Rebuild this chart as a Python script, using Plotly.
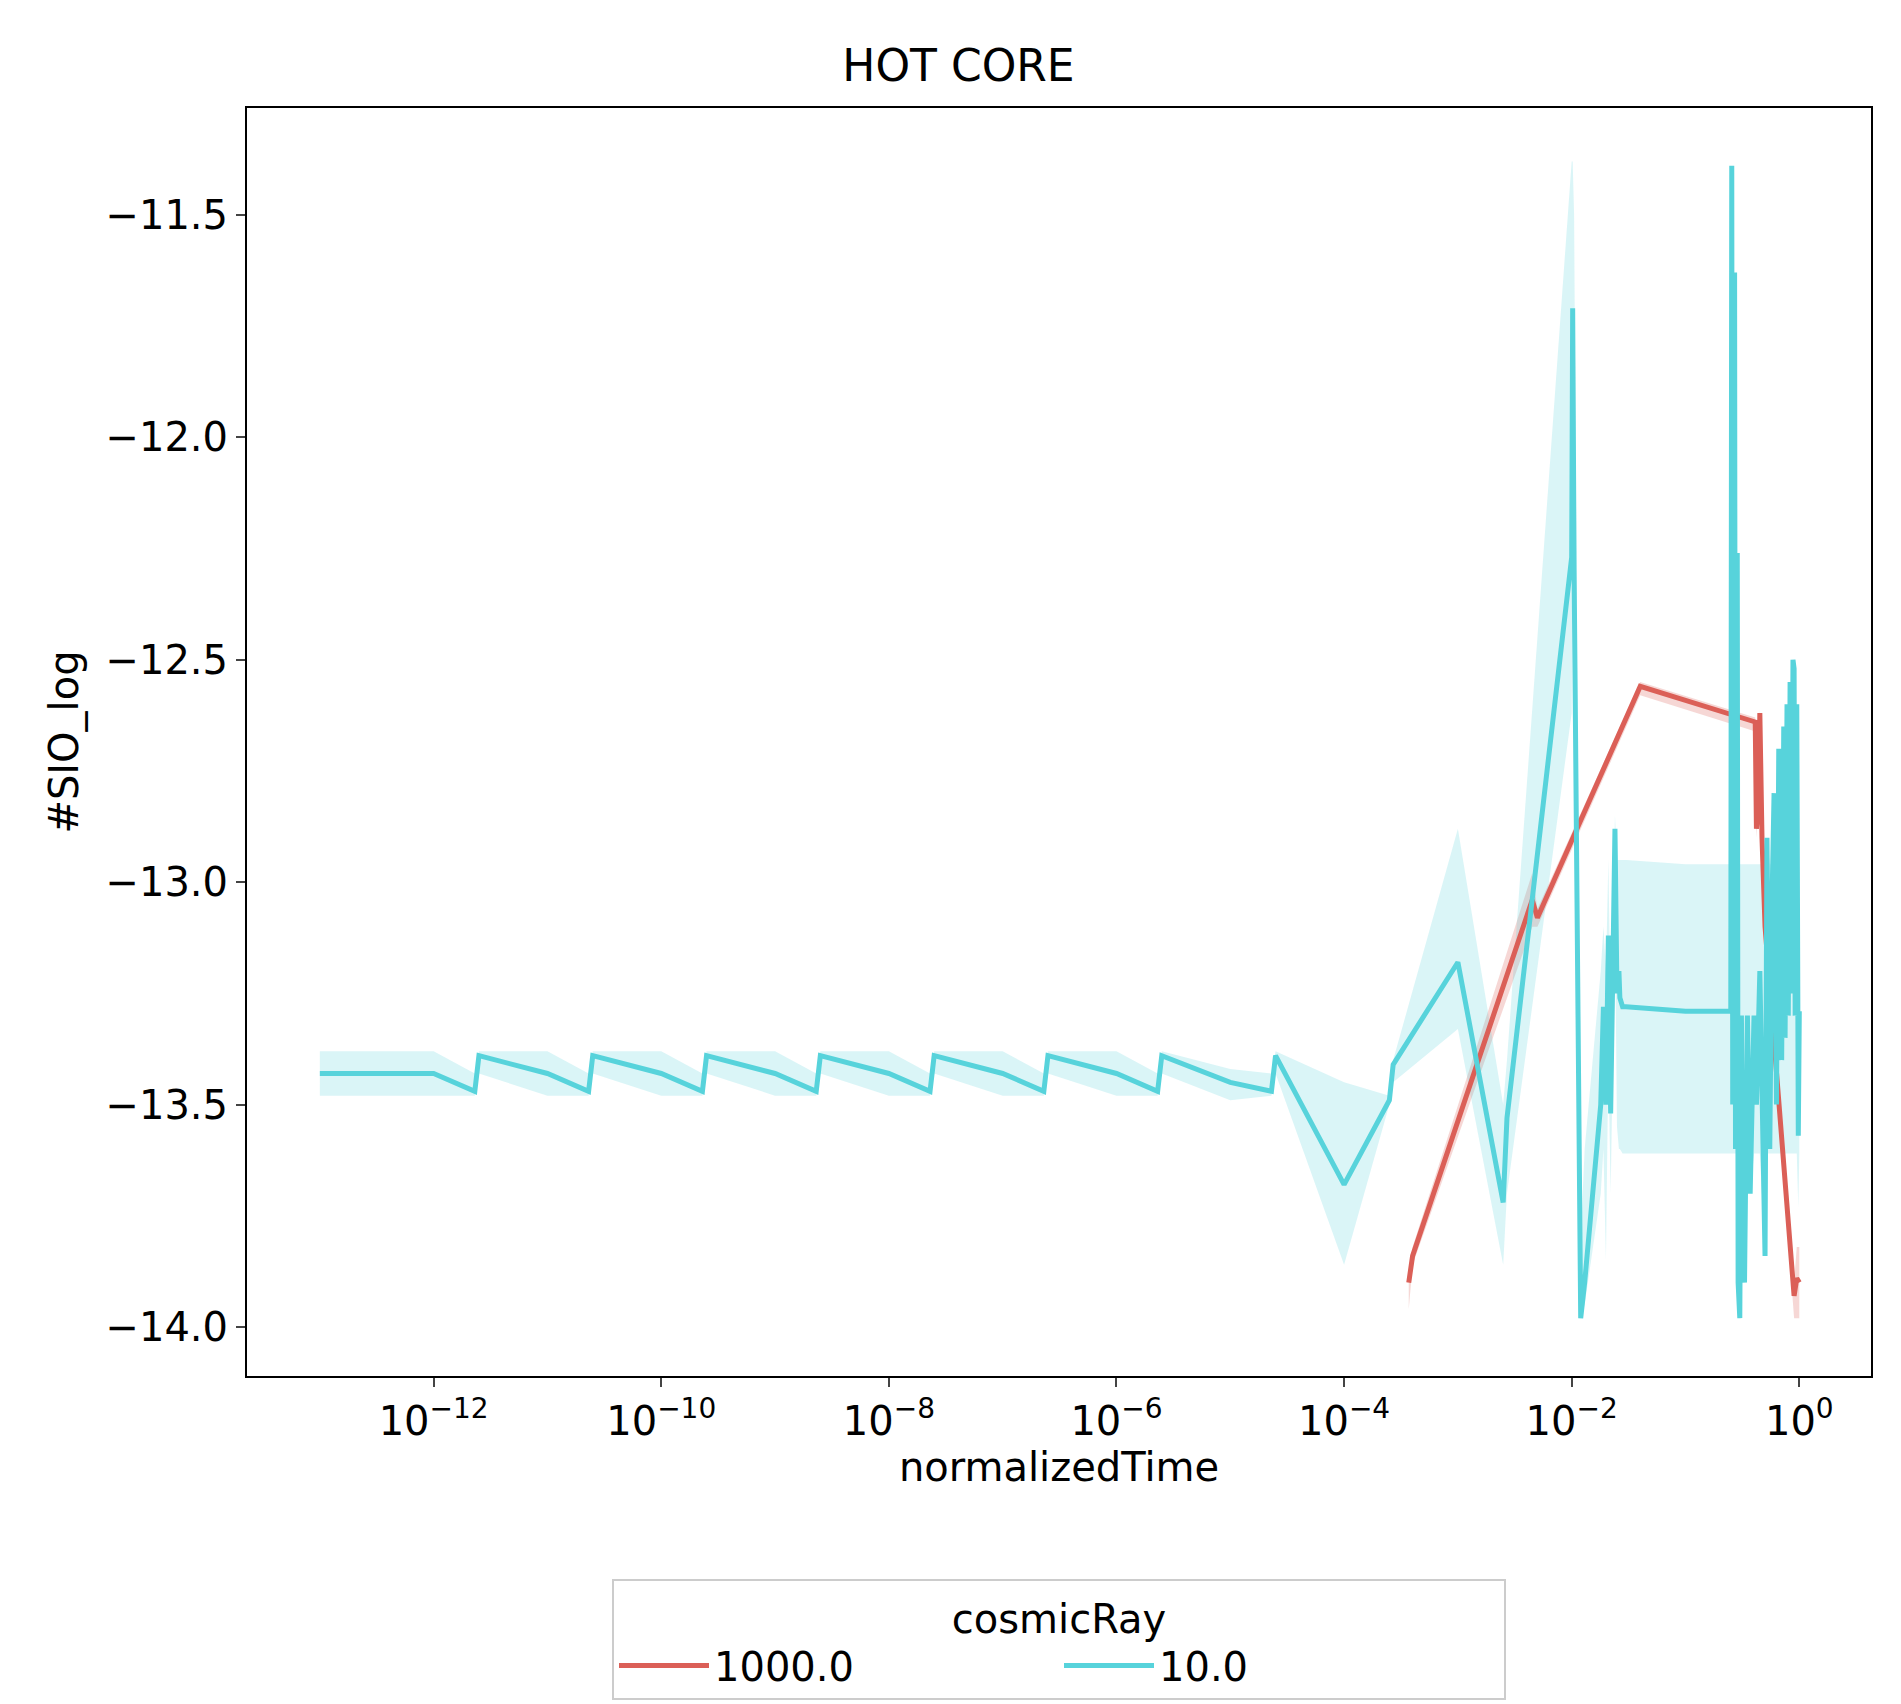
import plotly.graph_objects as go

# cosmicRay = 10.0
cyan_x = [1e-13, 1e-12, 2.3e-12, 2.5e-12, 1e-11, 2.3e-11, 2.5e-11, 1e-10, 2.3e-10, 2.5e-10,
          1e-9, 2.3e-9, 2.5e-9, 1e-8, 2.3e-8, 2.5e-8, 1e-7, 2.3e-7, 2.5e-7, 1e-6, 2.3e-6,
          2.5e-6, 1e-5, 2.3e-5, 2.5e-5, 1e-4, 2.5e-4, 2.7e-4, 1e-3, 2.5e-3, 2.7e-3, 1e-2,
          1.02e-2, 1.05e-2, 1.2e-2, 1.3e-2, 1.8e-2, 1.9e-2, 2e-2, 2.1e-2, 2.2e-2, 2.4e-2,
          2.5e-2, 2.6e-2, 2.65e-2, 2.8e-2, 3e-2, 0.1, 0.25, 0.255, 0.26, 0.265, 0.27, 0.275,
          0.28, 0.285, 0.29, 0.30, 0.31, 0.32, 0.33, 0.35, 0.37, 0.4, 0.42, 0.45, 0.5, 0.52,
          0.55, 0.58, 0.6, 0.63, 0.66, 0.7, 0.73, 0.75, 0.78, 0.8, 0.83, 0.85, 0.88, 0.9,
          0.92, 0.95, 0.98, 1.0]
cyan_y = [-13.43, -13.43, -13.47, -13.39, -13.43, -13.47, -13.39, -13.43, -13.47, -13.39,
          -13.43, -13.47, -13.39, -13.43, -13.47, -13.39, -13.43, -13.47, -13.39, -13.43, -13.47,
          -13.39, -13.45, -13.47, -13.39, -13.68, -13.49, -13.41, -13.18, -13.72, -13.53, -12.27,
          -11.71, -12.3, -13.98, -13.9, -13.5, -13.28, -13.5, -13.12, -13.52, -12.88,
          -13.25, -13.2, -13.26, -13.28, -13.28, -13.29, -13.29, -11.39, -13.5, -12.4, -11.63,
          -13.6, -13.4, -12.26, -13.9, -13.98, -13.3, -13.8, -13.9, -13.3, -13.7, -13.3, -13.5,
          -13.2, -13.84, -12.9, -13.6, -13.0, -12.8, -13.5, -12.7, -13.4, -12.65, -13.35, -12.6,
          -13.3, -12.55, -13.25, -12.5, -12.52, -13.3, -12.6, -13.57, -13.29]
cyan_hi = [-13.38, -13.38, -13.43, -13.38, -13.38, -13.43, -13.38, -13.38, -13.43, -13.38,
           -13.38, -13.43, -13.38, -13.38, -13.43, -13.38, -13.38, -13.43, -13.38, -13.38, -13.43,
           -13.38, -13.42, -13.43, -13.38, -13.45, -13.48, -13.4, -12.88, -13.5, -13.4, -11.38,
           -11.38, -11.5, -13.8, -13.6, -13.2, -13.1, -13.2, -12.95, -13.3, -12.85,
           -12.95, -12.95, -12.95, -12.95, -12.95, -12.96, -12.96, -11.39, -12.96, -12.4, -11.63,
           -12.96, -12.96, -12.26, -12.96, -12.96, -12.96, -12.96, -12.96, -12.96, -12.96, -12.96, -12.96,
           -12.96, -12.96, -12.9, -12.96, -12.96, -12.8, -12.96, -12.7, -12.96, -12.65, -12.96, -12.6,
           -12.96, -12.55, -12.96, -12.5, -12.52, -12.96, -12.6, -12.96, -12.96]
cyan_lo = [-13.48, -13.48, -13.48, -13.43, -13.48, -13.48, -13.43, -13.48, -13.48, -13.43,
           -13.48, -13.48, -13.43, -13.48, -13.48, -13.43, -13.48, -13.48, -13.43, -13.48, -13.48,
           -13.43, -13.49, -13.48, -13.43, -13.86, -13.5, -13.45, -13.33, -13.86, -13.7, -12.62,
           -12.3, -12.6, -13.98, -13.95, -13.7, -13.6, -13.85, -13.4, -13.7, -13.1,
           -13.55, -13.6, -13.6, -13.61, -13.61, -13.61, -13.61, -13.61, -13.61, -13.61, -13.61,
           -13.61, -13.61, -13.61, -13.9, -13.98, -13.61, -13.8, -13.9, -13.61, -13.7, -13.61, -13.61,
           -13.61, -13.84, -13.61, -13.61, -13.61, -13.61, -13.61, -13.61, -13.61, -13.61, -13.61, -13.61,
           -13.61, -13.61, -13.61, -13.61, -13.61, -13.61, -13.61, -13.73, -13.61]

# cosmicRay = 1000.0
red_x = [3.7e-4, 4e-4, 4.5e-3, 5e-3, 4e-2, 0.4, 0.41, 0.42, 0.44, 0.45, 0.47, 0.5, 0.9, 0.95, 1.0]
red_y = [-13.9, -13.84, -13.04, -13.08, -12.56, -12.64, -12.64, -12.88, -12.8, -12.62, -12.9, -13.1,
         -13.93, -13.89, -13.9]
red_hi = [-13.88, -13.82, -12.98, -13.06, -12.55, -12.63, -12.63, -12.86, -12.78, -12.61, -12.88, -13.08,
          -13.9, -13.82, -13.82]
red_lo = [-13.96, -13.86, -13.1, -13.1, -12.58, -12.66, -12.66, -12.9, -12.82, -12.63, -12.92, -13.12,
          -13.98, -13.98, -13.98]

tick_vals = [1e-12, 1e-10, 1e-8, 1e-6, 1e-4, 1e-2, 1]
tick_text = ["10<sup>−12</sup>", "10<sup>−10</sup>", "10<sup>−8</sup>", "10<sup>−6</sup>",
             "10<sup>−4</sup>", "10<sup>−2</sup>", "10<sup>0</sup>"]

RED = "#db5f57"
CYAN = "#57d3db"

fig = go.Figure()
for xs, hi, lo, col in [(red_x, red_hi, red_lo, "rgba(219,95,87,0.25)"),
                        (cyan_x, cyan_hi, cyan_lo, "rgba(87,211,219,0.22)")]:
    fig.add_trace(go.Scatter(x=xs + xs[::-1], y=hi + lo[::-1], fill="toself",
                             fillcolor=col, line=dict(width=0), mode="lines",
                             showlegend=False, hoverinfo="skip"))
fig.add_trace(go.Scatter(x=red_x, y=red_y, mode="lines", name="1000.0",
                         line=dict(color=RED, width=5)))
fig.add_trace(go.Scatter(x=cyan_x, y=cyan_y, mode="lines", name="10.0",
                         line=dict(color=CYAN, width=5)))

axis_common = dict(showline=True, linecolor="black", linewidth=2, mirror=True,
                   ticks="outside", ticklen=9, tickwidth=2, showgrid=False, zeroline=False,
                   tickfont=dict(size=40, color="black"), title_font=dict(size=40, color="black"))

fig.update_layout(
    width=1901, height=1704,
    paper_bgcolor="white", plot_bgcolor="white",
    font=dict(family="DejaVu Sans", color="black"),
    title=dict(text="HOT CORE", x=0.5, xanchor="center", y=0.975, font=dict(size=44)),
    margin=dict(l=239, r=38, t=100, b=314),
    xaxis=dict(type="log", range=[-13.64, 0.63], tickvals=tick_vals, ticktext=tick_text,
               title=dict(text="normalizedTime", standoff=8), **axis_common),
    yaxis=dict(range=[-14.11, -11.26], tickvals=[-14, -13.5, -13, -12.5, -12, -11.5],
               tickformat=".1f", title=dict(text="#SIO_log", standoff=14), **axis_common),
    legend=dict(orientation="h", x=0.5, xanchor="center", y=-0.16, yanchor="top",
                title=dict(text="cosmicRay", side="top center", font=dict(size=40)),
                itemwidth=90, entrywidth=340,
                bordercolor="#cccccc", borderwidth=2, font=dict(size=40)),
)

fig.write_html("out.html")
